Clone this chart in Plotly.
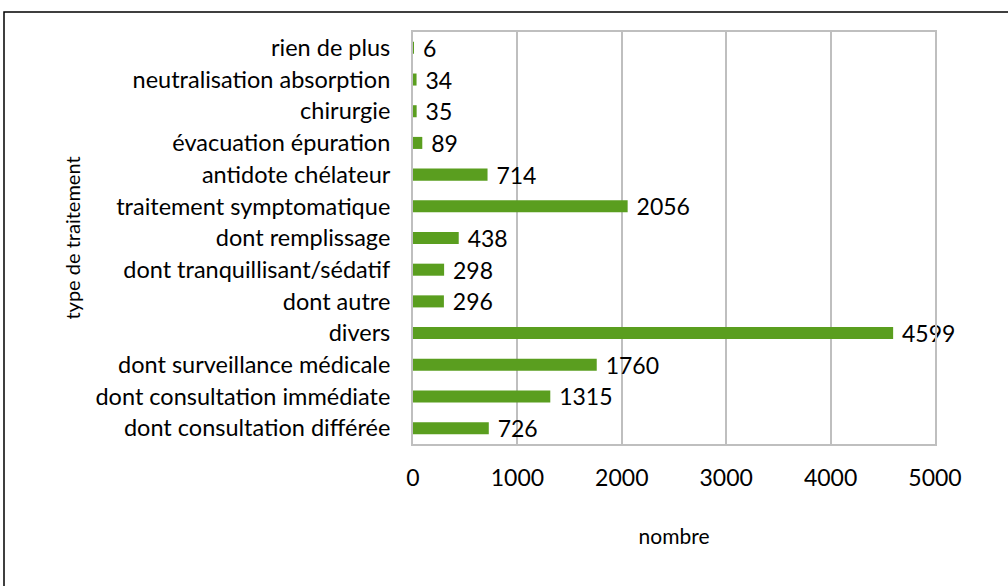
import plotly.graph_objects as go

categories = ["rien de plus", "neutralisation absorption", "chirurgie", "évacuation épuration",
              "antidote chélateur", "traitement symptomatique", "dont remplissage",
              "dont tranquillisant/sédatif", "dont autre", "divers",
              "dont surveillance médicale", "dont consultation immédiate", "dont consultation différée"]
values = [6, 34, 35, 89, 714, 2056, 438, 298, 296, 4599, 1760, 1315, 726]
x_ticks = [0, 1000, 2000, 3000, 4000, 5000]

FONT = "Lato"
W, H = 1008, 586
L, R, T, B = 413, 935, 32, 444

fig = go.Figure(go.Bar(
    y=categories, x=values, orientation="h",
    marker=dict(color="#5a9e1f", line=dict(width=0)),
    width=0.38,
    texttemplate="\u00a0%{x}", textposition="outside",
    constraintext="none",
    textfont=dict(family=FONT, size=23, color="#000000"),
    cliponaxis=False,
))

pw, ph = R - L, B - T
def px_x(x): return (x - L) / pw
def px_y(y): return (B - y) / ph

fig.update_layout(
    width=W, height=H,
    margin=dict(l=L, r=W - R, t=T, b=H - B, autoexpand=False),
    paper_bgcolor="white", plot_bgcolor="white",
    showlegend=False,
    font=dict(family=FONT, size=23, color="#000000"),
    xaxis=dict(range=[0, 5000], tickvals=x_ticks, ticktext=[str(t) for t in x_ticks],
               showgrid=True, gridcolor="#bfbfbf", gridwidth=2,
               showline=True, linecolor="#bfbfbf", linewidth=2, mirror=True,
               zeroline=False, ticks="", ticklen=0, ticklabelstandoff=12,
               tickfont=dict(family=FONT, size=23), tickangle=0,
               title=dict(text="nombre", font=dict(family=FONT, size=21), standoff=40)),
    yaxis=dict(autorange="reversed", showgrid=False,
               showline=True, linecolor="#bfbfbf", linewidth=2, mirror=True,
               ticks="", ticklabelstandoff=16,
               tickfont=dict(family=FONT, size=23.5),
               title=dict(text="type de traitement", font=dict(family=FONT, size=20), standoff=9)),
    shapes=[dict(type="rect", xref="paper", yref="paper",
                 x0=px_x(4), x1=px_x(1020), y0=px_y(600), y1=px_y(12),
                 line=dict(color="#000000", width=1.5), fillcolor="rgba(0,0,0,0)", layer="below")],
)

fig.write_html("out.html", config={"displayModeBar": False},
               post_script="document.body.style.margin='0';")
